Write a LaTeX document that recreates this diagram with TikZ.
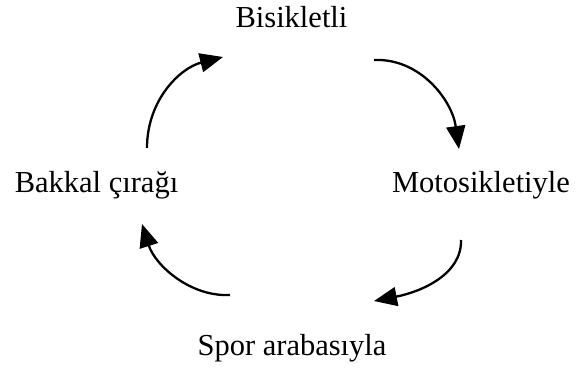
\documentclass[tikz,border=0pt]{standalone}
\usepackage{fontspec}
\setmainfont{Liberation Serif}
\usetikzlibrary{arrows.meta}
\begin{document}
\begin{tikzpicture}[x=1pt,y=-1pt,
  lbl/.style={font=\fontsize{30.5}{36}\selectfont, inner sep=0pt, anchor=base},
  cyc/.style={line width=2.3pt, -{Triangle[length=23pt,width=19pt]}}]
\useasboundingbox (0,0) rectangle (576,369);
% stage labels
\node[lbl] (bis) at (291.5,28) {Bisikletli};
\node[lbl] (mot) at (481,192) {Motosikletiyle};
\node[lbl] (spo) at (292,355) {Spor arabasıyla};
\node[lbl] (bak) at (96.5,192) {Bakkal çırağı};
% arrow end points
\coordinate (a1s) at (147,148); \coordinate (a1e) at (223,57);
\coordinate (a2s) at (374,60);  \coordinate (a2e) at (459,149);
\coordinate (a3s) at (461,240); \coordinate (a3e) at (374,301);
\coordinate (a4s) at (230,295); \coordinate (a4e) at (142,224);
% cycle arrows
\draw[cyc] (a1s) .. controls (147,100) and (180,68) .. (a1e);
\draw[cyc] (a2s) .. controls (420,58) and (452,100) .. (a2e);
\draw[cyc] (a3s) .. controls (462,275) and (420,292) .. (a3e);
\draw[cyc] (a4s) .. controls (190,297) and (155,265) .. (a4e);
\end{tikzpicture}
\end{document}
